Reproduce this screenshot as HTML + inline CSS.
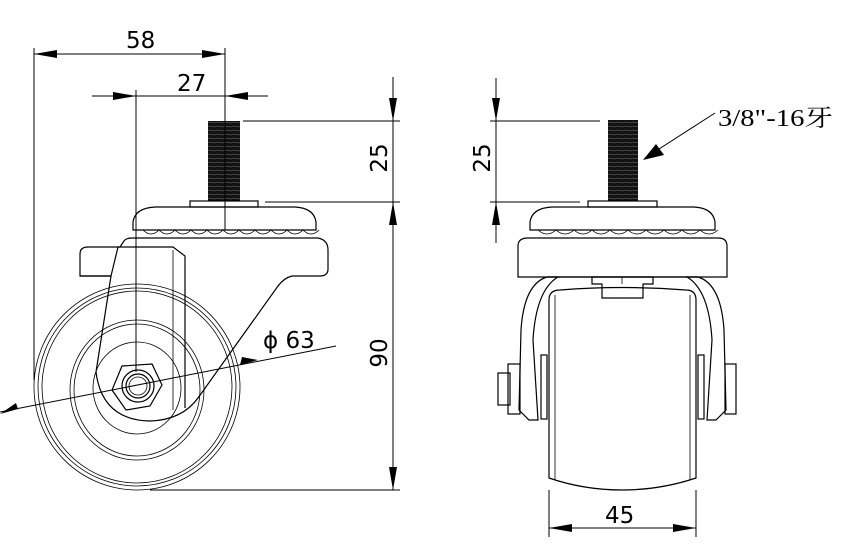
<!DOCTYPE html>
<html><head><meta charset="utf-8"><style>
html,body{margin:0;padding:0;background:#fff;}
svg{display:block}
.l{fill:none;stroke:#000;stroke-width:1.2}
.t{fill:none;stroke:#000;stroke-width:0.8}
.d{stroke:#000;stroke-width:1;fill:none}
.txt{font-family:"DejaVu Sans","Liberation Sans",sans-serif;font-size:23px;fill:#000}
</style></head><body>
<svg width="843" height="544" viewBox="0 0 843 544" xmlns="http://www.w3.org/2000/svg">
<defs>
<pattern id="thr" width="8" height="4" patternUnits="userSpaceOnUse">
<rect width="8" height="4" fill="#111"/><line x1="0" y1="2" x2="8" y2="3" stroke="#777" stroke-width="0.6"/>
</pattern>
</defs>

<!-- ============ LEFT VIEW ============ -->
<g class="t">
<ellipse cx="137" cy="387" rx="103" ry="103"/>
<ellipse cx="137" cy="387" rx="99" ry="99"/>
<ellipse cx="137" cy="387" rx="95" ry="96"/>
<ellipse cx="137" cy="390" rx="67" ry="70"/>
<ellipse cx="137" cy="390" rx="63" ry="66"/>
<ellipse cx="137" cy="388" rx="44" ry="46"/>
</g>
<rect x="208" y="121" width="32" height="80" fill="url(#thr)"/>
<rect x="190" y="201" width="68" height="6" class="l" fill="#fff"/>
<path class="l" fill="#fff" d="M133 230 L133 222 Q135 208 155 207 L295 207 Q314 208 316 222 L316 230 Z"/>
<path class="t" d="M143 230 q8 8 16 0 q8 8 16 0 q8 8 16 0 q8 8 16 0 q8 8 16 0 q8 8 16 0 q8 8 16 0 q8 8 16 0 q8 8 16 0 q8 8 16 0 q8 8 16 0"/>
<!-- bracket -->
<path class="l" fill="#fff" d="M80 276 L80 254 Q80 247 88 247 L120 247 L124 241 Q126 238 132 238 L318 238 Q328 240 328 250 L328 269 Q328 276 320 276 L292 276 Q284 278 278 286 L198 398 Q182 420 150 421 Q102 420 96 372 L111 276 Z"/>
<line class="l" x1="80" y1="276" x2="111" y2="276"/>
<line class="l" x1="118" y1="247" x2="111" y2="276"/>
<path class="l" d="M118 247 L173 247 L185 256 L185 408"/>
<line class="t" x1="173" y1="250" x2="173" y2="410"/>
<!-- nut -->
<polygon class="l" fill="#fff" points="122,366 152,364 162,385 150,406 126,410 112,390"/>
<circle class="l" cx="138" cy="386" r="16"/>
<circle class="l" cx="138" cy="386" r="12"/>
<circle class="t" cx="138" cy="386" r="9"/>
<!-- phi 63 leader -->
<line class="d" x1="0" y1="412" x2="336" y2="346"/>
<polygon points="18,409 0,414 16,403" fill="#000"/>
<polygon points="240,365 258,360 242,357" fill="#000"/>
<text class="txt" x="263" y="348" font-size="24">&#981; 63</text>

<!-- dimension 58 -->
<line class="d" x1="34" y1="48" x2="34" y2="380"/>
<line class="d" x1="225" y1="48" x2="225" y2="230"/>
<line class="d" x1="34" y1="54" x2="225" y2="54"/>
<polygon points="34,54 57,50 57,58"/><polygon points="225,54 202,50 202,58"/>
<text class="txt" x="126" y="48">58</text>
<!-- dimension 27 -->
<line class="d" x1="136" y1="90" x2="136" y2="372"/>
<line class="d" x1="92" y1="96" x2="268" y2="96"/>
<polygon points="136,96 113,92 113,100"/><polygon points="225,96 248,92 248,100"/>
<text class="txt" x="177" y="91">27</text>
<!-- vertical dims -->
<line class="d" x1="243" y1="121" x2="400" y2="121"/>
<line class="d" x1="265" y1="202" x2="400" y2="202"/>
<line class="d" x1="150" y1="490" x2="400" y2="490"/>
<line class="d" x1="393" y1="77" x2="393" y2="490"/>
<polygon points="393,121 389,98 397,98"/><polygon points="393,202 389,225 397,225"/>
<polygon points="393,490 389,467 397,467"/>
<text class="txt" transform="translate(387,158) rotate(-90)" text-anchor="middle">25</text>
<text class="txt" transform="translate(387,353) rotate(-90)" text-anchor="middle">90</text>

<!-- ============ RIGHT VIEW ============ -->
<rect x="608" y="120" width="30" height="81" fill="url(#thr)"/>
<rect x="588" y="201" width="69" height="6" class="l" fill="#fff"/>
<path class="l" fill="#fff" d="M530 230 L530 222 Q532 208 552 207 L694 207 Q713 208 715 222 L715 230 Z"/>
<path class="t" d="M538 230 q9 8 18 0 q9 8 18 0 q9 8 18 0 q9 8 18 0 q9 8 18 0 q9 8 18 0 q9 8 18 0 q9 8 18 0 q9 8 18 0 q9 8 18 0"/>
<path class="l" fill="#fff" d="M518 277 L518 246 Q518 238 528 238 L718 238 Q727 238 727 246 L727 277 Z"/>
<path class="l" fill="#fff" d="M547 277 Q524 284 521 330 L519 410 L529 420 L538 420 L533 340 Q536 290 558 277 Z"/>
<path class="l" fill="#fff" d="M698 277 Q721 284 724 330 L726 410 L716 420 L707 420 L712 340 Q709 290 687 277 Z"/>
<path class="l" fill="#fff" d="M549 300 Q549 290 560 290 Q622 285 686 290 Q696 290 696 300 L696 478 Q660 490 622 490 Q584 490 549 478 Z"/>
<line class="t" x1="555" y1="295" x2="555" y2="480"/>
<line class="t" x1="690" y1="295" x2="690" y2="480"/>
<line class="l" x1="547" y1="277" x2="698" y2="277"/>
<path class="l" fill="#fff" d="M592 277 L653 277 L653 284 L643 284 L643 298 L602 298 L602 284 L592 284 Z"/>
<line class="t" x1="622" y1="277" x2="622" y2="284"/>
<rect x="541" y="355" width="6" height="64" class="l" fill="#fff"/>
<rect x="698" y="355" width="6" height="64" class="l" fill="#fff"/>
<rect x="498" y="373" width="12" height="32" class="l" fill="#fff"/>
<rect x="508" y="364" width="12" height="50" class="l" fill="#fff"/>
<rect x="725" y="364" width="11" height="50" class="l" fill="#fff"/>
<!-- right dims -->
<line class="d" x1="490" y1="121" x2="600" y2="121"/>
<line class="d" x1="490" y1="202" x2="580" y2="202"/>
<line class="d" x1="496" y1="78" x2="496" y2="243"/>
<polygon points="496,121 492,98 500,98"/><polygon points="496,202 492,225 500,225"/>
<text class="txt" transform="translate(490,158) rotate(-90)" text-anchor="middle">25</text>
<line class="d" x1="549" y1="490" x2="549" y2="537"/>
<line class="d" x1="696" y1="490" x2="696" y2="537"/>
<line class="d" x1="549" y1="528" x2="696" y2="528"/>
<polygon points="549,528 572,524 572,532"/><polygon points="696,528 673,524 673,532"/>
<text class="txt" x="605" y="523">45</text>
<!-- thread note -->
<line class="d" x1="715" y1="113" x2="645" y2="158"/>
<polygon points="643,160 656,144 664,155"/>
<text x="718" y="126" textLength="115" lengthAdjust="spacingAndGlyphs" style="font-family:'Liberation Serif','Noto Serif CJK SC',serif;font-size:24px">3/8"-16牙</text>
</svg>
</body></html>
